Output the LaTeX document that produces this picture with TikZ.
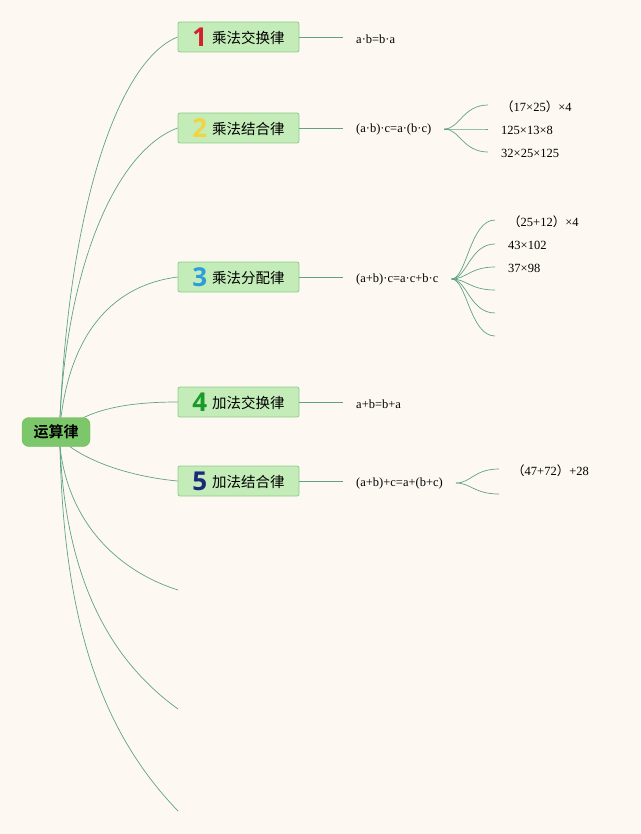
\documentclass[tikz,border=0pt]{standalone}
\usepackage{fontspec}
\setmainfont{Liberation Serif}
\newfontfamily\cjk{Noto Sans CJK SC}[BoldFont={Noto Sans CJK SC Bold}]
\newfontfamily\numfont{Open Sans}[BoldFont={Open Sans Bold}]
\definecolor{bg}{HTML}{FDF9F2}
\definecolor{ln}{HTML}{5FA383}
\definecolor{boxfill}{HTML}{C4ECB8}
\definecolor{boxdraw}{HTML}{8DCC8A}
\definecolor{rootfill}{HTML}{7CC76A}
\definecolor{nred}{HTML}{D3212D}
\definecolor{nyellow}{HTML}{F2D442}
\definecolor{nblue}{HTML}{2A9DDB}
\definecolor{ngreen}{HTML}{1A9A2A}
\definecolor{nnavy}{HTML}{1A2A78}
\tikzset{
  conn/.style={draw=ln, line width=0.7pt},
  rootbox/.style={fill=rootfill, draw=rootfill!90!black, rounded corners=7pt, minimum width=68pt, minimum height=29pt, inner sep=0pt, font=\cjk\bfseries\fontsize{15}{15}\selectfont},
  topic/.style={fill=boxfill, draw=boxdraw, line width=0.8pt, rounded corners=2pt, minimum width=121pt, minimum height=30pt, inner sep=0pt},
  formula/.style={anchor=west, inner xsep=13pt, inner ysep=2pt, yshift=-1pt, font=\fontsize{12.5}{12.5}\selectfont},
  leaf/.style={anchor=west, inner xsep=13pt, inner ysep=2pt, yshift=-1.5pt, font=\fontsize{12.5}{12.5}\selectfont},
}
\newcommand{\topictext}[3]{{\numfont\bfseries\fontsize{26}{26}\selectfont\color{#1}#2}\hspace{5pt}\raisebox{2.5pt}{\cjk\fontsize{14.5}{14.5}\selectfont #3}}
\newcommand{\fp}[1]{{\cjk #1}}
\begin{document}
\begin{tikzpicture}[x=1pt,y=-1pt]
\fill[bg] (0,0) rectangle (640,834);
\useasboundingbox (0,0) rectangle (640,834);

\node[rootbox] (root) at (56,432) {运算律};

\node[topic] (t1) at (238.5,37) {\topictext{nred}{1}{乘法交换律}};
\node[topic] (t2) at (238.5,128) {\topictext{nyellow}{2}{乘法结合律}};
\node[topic] (t3) at (238.5,277) {\topictext{nblue}{3}{乘法分配律}};
\node[topic] (t4) at (238.5,402) {\topictext{ngreen}{4}{加法交换律}};
\node[topic] (t5) at (238.5,481) {\topictext{nnavy}{5}{加法结合律}};

\coordinate (e1) at (178,590);
\coordinate (e2) at (178,709);
\coordinate (e3) at (178,811);

% main branches
\draw[conn] ([xshift=4pt]root.north) .. controls (70,200) and (120,60) .. (t1.west);
\draw[conn] ([xshift=4pt]root.north) .. controls (68,260) and (118,150) .. (t2.west);
\draw[conn] ([xshift=5pt]root.north) .. controls (72,330) and (115,285) .. (t3.west);
\draw[conn] ([xshift=-6pt]root.north east) .. controls (110,405) and (145,402) .. (t4.west);
\draw[conn] ([xshift=14pt]root.south) .. controls (100,468) and (145,478) .. (t5.west);
\draw[conn] ([xshift=4pt]root.south) .. controls (68,520) and (115,570) .. (e1);
\draw[conn] ([xshift=4pt]root.south) .. controls (66,580) and (110,660) .. (e2);
\draw[conn] ([xshift=4pt]root.south) .. controls (64,640) and (110,740) .. (e3);

% formulas
\node[formula] (f1) at (343,38) {a·b=b·a};
\node[formula] (f2) at (343,128) {(a·b)·c=a·(b·c)};
\node[formula] (f3) at (343,278) {(a+b)·c=a·c+b·c};
\node[formula] (f4) at (343,403) {a+b=b+a};
\node[formula] (f5) at (343,482) {(a+b)+c=a+(b+c)};

\foreach \i in {1,...,5} \draw[conn] (t\i.east) -- (t\i.east -| f\i.west);

% fan of formula 2
\coordinate (a1) at (488,105);
\coordinate (a2) at (488,129);
\coordinate (a3) at (488,152);
\foreach \c in {a1,a2,a3}
  \draw[conn] (f2.east) .. controls ([xshift=15pt]f2.east) and ([xshift=-25pt]\c) .. (\c);
\node[leaf] (l21) at (a1) {\fp{（}17×25\fp{）}×4};
\node[leaf] (l22) at (a2) {125×13×8};
\node[leaf] (l23) at (a3) {32×25×125};

% fan of formula 3
\coordinate (b1) at (495,220);
\coordinate (b2) at (495,244);
\coordinate (b3) at (495,267);
\coordinate (b4) at (495,290);
\coordinate (b5) at (495,313);
\coordinate (b6) at (495,336);
\foreach \c in {b1,b2,b3,b4,b5,b6}
  \draw[conn] (f3.east) .. controls ([xshift=15pt]f3.east) and ([xshift=-25pt]\c) .. (\c);
\node[leaf] (l31) at (b1) {\fp{（}25+12\fp{）}×4};
\node[leaf] (l32) at (b2) {43×102};
\node[leaf] (l33) at (b3) {37×98};

% fan of formula 5
\coordinate (c1) at (499,469);
\coordinate (c2) at (499,494);
\foreach \c in {c1,c2}
  \draw[conn] (f5.east) .. controls ([xshift=15pt]f5.east) and ([xshift=-25pt]\c) .. (\c);
\node[leaf] (l51) at (c1) {\fp{（}47+72\fp{）}+28};
\end{tikzpicture}
\end{document}
